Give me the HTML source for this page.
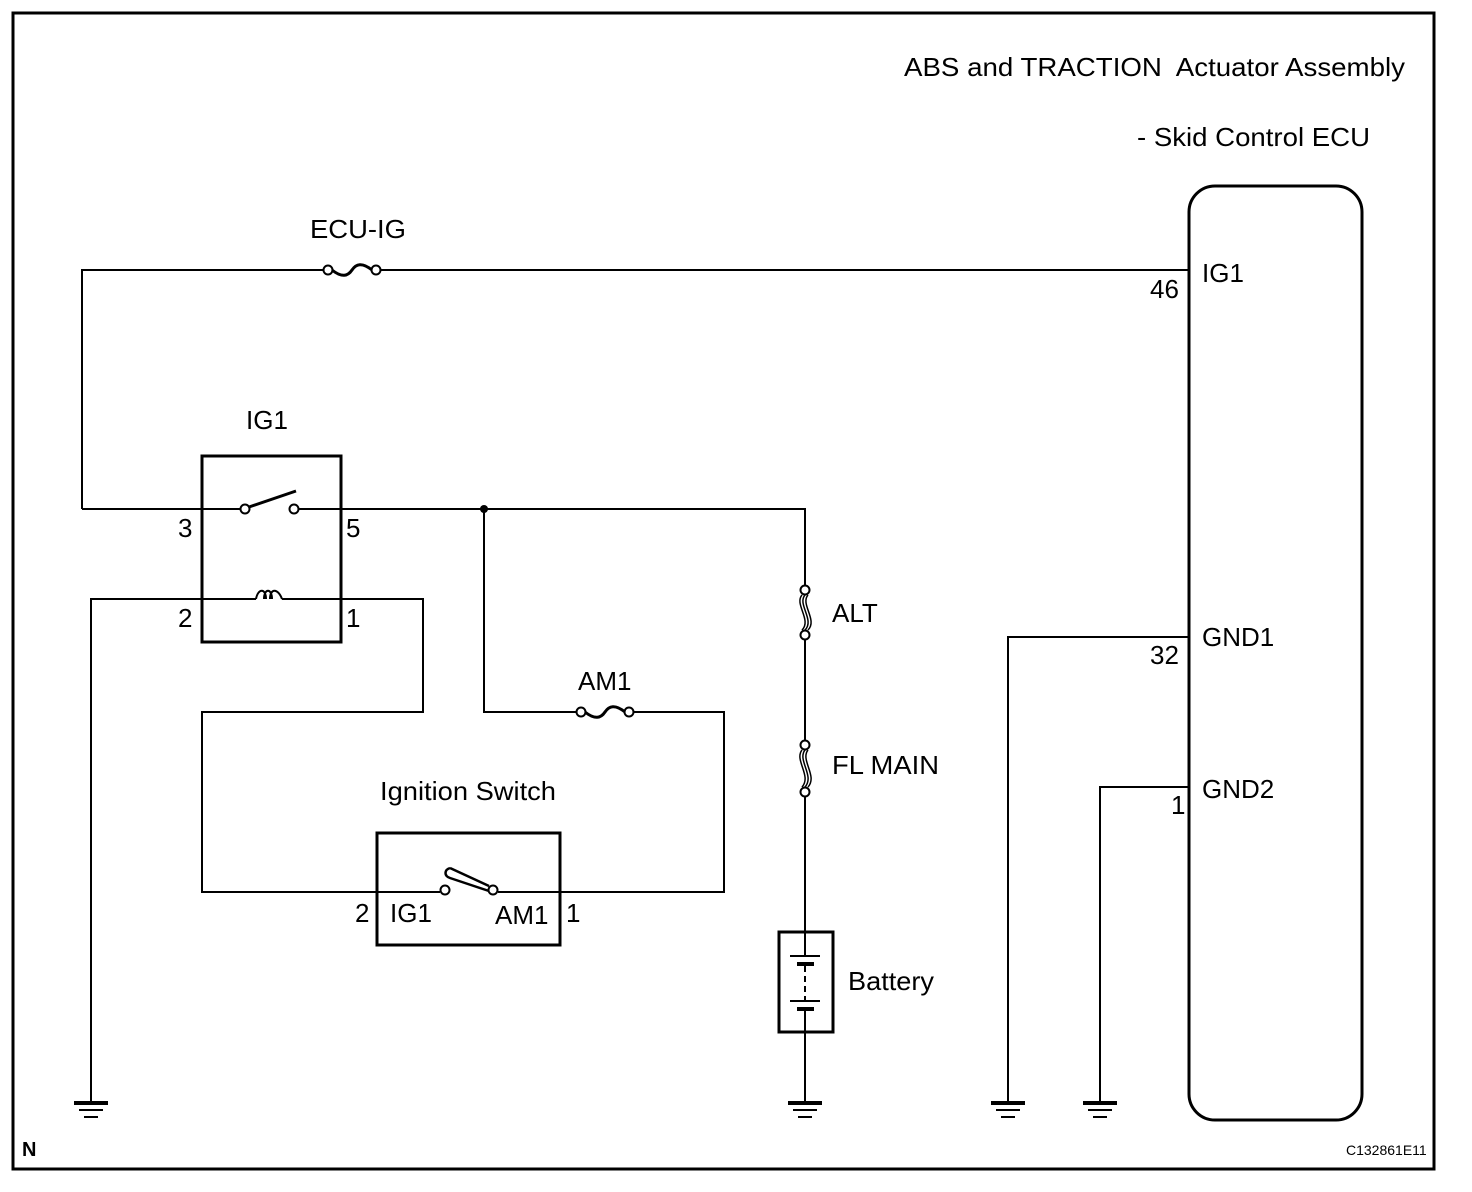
<!DOCTYPE html>
<html><head><meta charset="utf-8"><style>
html,body{margin:0;padding:0;background:#fff;}
svg{display:block;}
text{font-family:"Liberation Sans",Arial,sans-serif;fill:#000;}
</style></head><body>
<svg width="1472" height="1192" viewBox="0 0 1472 1192" xmlns="http://www.w3.org/2000/svg">
<defs>
<g id="gnd">
<line x1="0" y1="0" x2="0" y2="22" stroke="#000" stroke-width="2"/>
<rect x="-17" y="21" width="34" height="4" fill="#000"/>
<line x1="-12" y1="30" x2="12" y2="30" stroke="#000" stroke-width="2"/>
<line x1="-7" y1="37" x2="7" y2="37" stroke="#000" stroke-width="2"/>
</g>
</defs>
<rect x="13" y="13" width="1421" height="1156" fill="none" stroke="#000" stroke-width="3"/>
<g fill="none" stroke="#000" stroke-width="2">
<polyline points="82,509 82,270 324,270"/>
<line x1="381" y1="270" x2="1189" y2="270"/>
<circle cx="328" cy="270" r="4.5" fill="#fff"/>
<circle cx="376" cy="270" r="4.5" fill="#fff"/>
<path d="M332,270 C342,278 348,276 352,270 C356,264 362,262 372,270" stroke-width="3"/>
<rect x="202" y="456" width="139" height="186" stroke-width="3"/>
<line x1="82" y1="509" x2="240" y2="509"/>
<circle cx="245" cy="509" r="4.5" fill="#fff"/>
<line x1="249" y1="507" x2="296" y2="491" stroke-width="3"/>
<circle cx="294" cy="509" r="4.5" fill="#fff"/>
<polyline points="299,509 805,509 805,586"/>
<polyline points="91,1100 91,599 256,599"/>
<path d="M256,599 C258,588 266,588 266,599 M264,599 C264,588 272,588 272,599 M270,599 C270,588 278,588 282,599" stroke-width="2"/>
<polyline points="282,599 423,599 423,712 202,712 202,892 378,892"/>
<polyline points="484,509 484,712 577,712"/>
<circle cx="581" cy="712" r="4.5" fill="#fff"/>
<circle cx="629" cy="712" r="4.5" fill="#fff"/>
<path d="M585,712 C595,720 601,718 605,712 C609,706 615,704 625,712" stroke-width="3"/>
<polyline points="634,712 724,712 724,892 560,892"/>
<rect x="377" y="833" width="183" height="112" stroke-width="3"/>
<line x1="378" y1="892" x2="440" y2="892"/>
<circle cx="445" cy="890" r="4.5" fill="#fff"/>
<path d="M450,868 C444,870 444,876 450,878 L489,891" stroke-width="2.5"/>
<path d="M450,868 L489,886" stroke-width="2.5"/>
<circle cx="493" cy="890" r="4.5" fill="#fff"/>
<line x1="498" y1="892" x2="560" y2="892"/>
<circle cx="805" cy="590" r="4.5" fill="#fff"/>
<circle cx="805" cy="635" r="4.5" fill="#fff"/>
<path d="M802,595 C794,604 812,620 802,630 M805,595 C797,604 815,620 805,630 M808,595 C800,604 818,620 808,630" stroke-width="1.5"/>
<line x1="805" y1="640" x2="805" y2="741"/>
<circle cx="805" cy="745" r="4.5" fill="#fff"/>
<circle cx="805" cy="792" r="4.5" fill="#fff"/>
<path d="M802,750 C794,760 812,776 802,787 M805,750 C797,760 815,776 805,787 M808,750 C800,760 818,776 808,787" stroke-width="1.5"/>
<line x1="805" y1="797" x2="805" y2="932"/>
<rect x="779" y="932" width="54" height="100" stroke-width="3"/>
<line x1="805" y1="932" x2="805" y2="957"/>
<line x1="790" y1="956" x2="820" y2="956"/>
<rect x="797" y="962" width="17" height="4" fill="#000" stroke="none"/>
<line x1="805" y1="966" x2="805" y2="1000" stroke-dasharray="6,4"/>
<line x1="790" y1="1001" x2="820" y2="1001"/>
<rect x="797" y="1007" width="17" height="4" fill="#000" stroke="none"/>
<line x1="805" y1="1011" x2="805" y2="1100"/>
<polyline points="1189,637 1008,637 1008,1100"/>
<polyline points="1189,787 1100,787 1100,1100"/>
<rect x="1189" y="186" width="173" height="934" rx="26" ry="26" stroke-width="3"/>
</g>
<circle cx="484" cy="509" r="4" fill="#000"/>
<use href="#gnd" x="91" y="1080"/>
<use href="#gnd" x="805" y="1080"/>
<use href="#gnd" x="1008" y="1080"/>
<use href="#gnd" x="1100" y="1080"/>
<g font-size="26">
<text x="904" y="76" textLength="501" lengthAdjust="spacingAndGlyphs" xml:space="preserve">ABS and TRACTION  Actuator Assembly</text>
<text x="1137" y="146" textLength="233" lengthAdjust="spacingAndGlyphs">- Skid Control ECU</text>
<text x="310" y="238" textLength="96" lengthAdjust="spacingAndGlyphs">ECU-IG</text>
<text x="246" y="429">IG1</text>
<text x="178" y="537">3</text>
<text x="346" y="537">5</text>
<text x="178" y="627">2</text>
<text x="346" y="627">1</text>
<text x="578" y="690">AM1</text>
<text x="380" y="800" textLength="176" lengthAdjust="spacingAndGlyphs">Ignition Switch</text>
<text x="355" y="922">2</text>
<text x="390" y="922">IG1</text>
<text x="495" y="924">AM1</text>
<text x="566" y="922">1</text>
<text x="832" y="622">ALT</text>
<text x="832" y="774" textLength="107" lengthAdjust="spacingAndGlyphs">FL MAIN</text>
<text x="848" y="990" textLength="86" lengthAdjust="spacingAndGlyphs">Battery</text>
<text x="1202" y="282">IG1</text>
<text x="1150" y="298">46</text>
<text x="1202" y="646">GND1</text>
<text x="1150" y="664">32</text>
<text x="1202" y="798">GND2</text>
<text x="1171" y="814">1</text>
</g>
<text x="22" y="1156" font-size="20" font-weight="bold">N</text>
<text x="1346" y="1155" font-size="14">C132861E11</text>
</svg>
</body></html>
